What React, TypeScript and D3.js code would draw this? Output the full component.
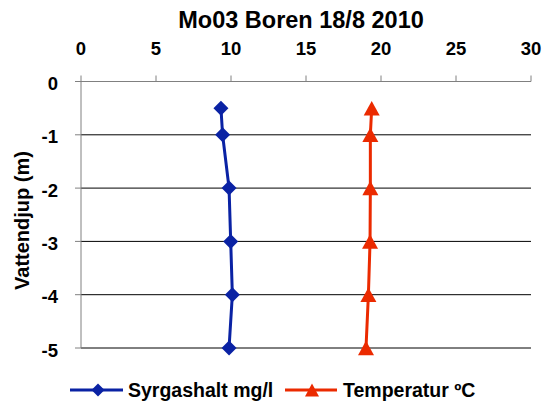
import React from "react";
import * as d3 from "d3";

const depths = [-0.5, -1, -2, -3, -4, -5];
const oxygen = [9.33, 9.44, 9.87, 9.98, 10.09, 9.87];
const temperature = [19.38, 19.29, 19.29, 19.27, 19.16, 19.0];
const xTicks = [0, 5, 10, 15, 20, 25, 30];
const yTicks = [0, -1, -2, -3, -4, -5];
const title = "Mo03 Boren 18/8 2010";
const yTitle = "Vattendjup (m)";
const seriesNames = ["Syrgashalt mg/l", "Temperatur ºC"];

const W = 547, H = 403;
const left = 81, right = 531, top = 81.5, bottom = 348;
const BLUE = "#0A22A4";
const RED = "#EB2A00";
const FONT = "'Liberation Sans', Arial, sans-serif";

export default function App() {
  const x = d3.scaleLinear().domain([0, 30]).range([left, right]);
  const y = d3.scaleLinear().domain([0, -5]).range([top, bottom]);
  const line = d3.line<[number, number]>().x(d => x(d[0])).y(d => y(d[1]));
  const oxyPts: [number, number][] = depths.map((d, i) => [oxygen[i], d]);
  const tmpPts: [number, number][] = depths.map((d, i) => [temperature[i], d]);
  const diamond = (cx: number, cy: number, r = 7.5) =>
    `M${cx},${cy - r}L${cx + r},${cy}L${cx},${cy + r}L${cx - r},${cy}Z`;
  const tri = (cx: number, cy: number, w = 8, h = 14.5) =>
    `M${cx},${cy - h / 2}L${cx + w},${cy + h / 2}L${cx - w},${cy + h / 2}Z`;

  return (
    <svg width={W} height={H} style={{ position: "absolute", left: 0, top: 0, fontFamily: FONT }}>
      <rect width={W} height={H} fill="#fff" />
      <text x={301} y={28} textAnchor="middle" fontSize={23.5} fontWeight="bold">{title}</text>
      {/* gridlines */}
      {yTicks.filter(t => t !== 0).map(t => (
        <line key={t} x1={left} x2={right} y1={y(t)} y2={y(t)} stroke="#000" strokeWidth={1} />
      ))}
      {/* top axis */}
      <line x1={left} x2={right} y1={top} y2={top} stroke="#808080" strokeWidth={1} />
      {xTicks.map(t => (
        <g key={t}>
          <line x1={x(t)} x2={x(t)} y1={top} y2={top - 6} stroke="#808080" />
          <text x={x(t)} y={55} textAnchor="middle" fontSize={18.5} fontWeight="bold">{t}</text>
        </g>
      ))}
      {/* left axis */}
      <line x1={left} x2={left} y1={top} y2={bottom} stroke="#808080" strokeWidth={1} />
      {yTicks.map(t => (
        <g key={t}>
          <line x1={left - 6} x2={left} y1={y(t)} y2={y(t)} stroke="#808080" />
          <text x={58} y={y(t) + 8.5} textAnchor="end" fontSize={18.5} fontWeight="bold">{t}</text>
        </g>
      ))}
      <text transform={`translate(28.5,220.5) rotate(-90)`} textAnchor="middle" fontSize={20} fontWeight="bold">{yTitle}</text>
      {/* series */}
      <path d={line(oxyPts) || ""} fill="none" stroke={BLUE} strokeWidth={3} />
      {oxyPts.map((p, i) => <path key={i} d={diamond(x(p[0]), y(p[1]))} fill={BLUE} />)}
      <path d={line(tmpPts) || ""} fill="none" stroke={RED} strokeWidth={3} />
      {tmpPts.map((p, i) => <path key={i} d={tri(x(p[0]), y(p[1]))} fill={RED} />)}
      {/* legend */}
      <line x1={70} x2={123} y1={390} y2={390} stroke={BLUE} strokeWidth={3} />
      <path d={diamond(98, 390, 6.5)} fill={BLUE} />
      <text x={128} y={397} fontSize={19.5} fontWeight="bold">{seriesNames[0]}</text>
      <line x1={285} x2={337} y1={390} y2={390} stroke={RED} strokeWidth={3} />
      <path d={tri(312, 390, 7, 13)} fill={RED} />
      <text x={343} y={397} fontSize={19.5} fontWeight="bold">{seriesNames[1]}</text>
    </svg>
  );
}
